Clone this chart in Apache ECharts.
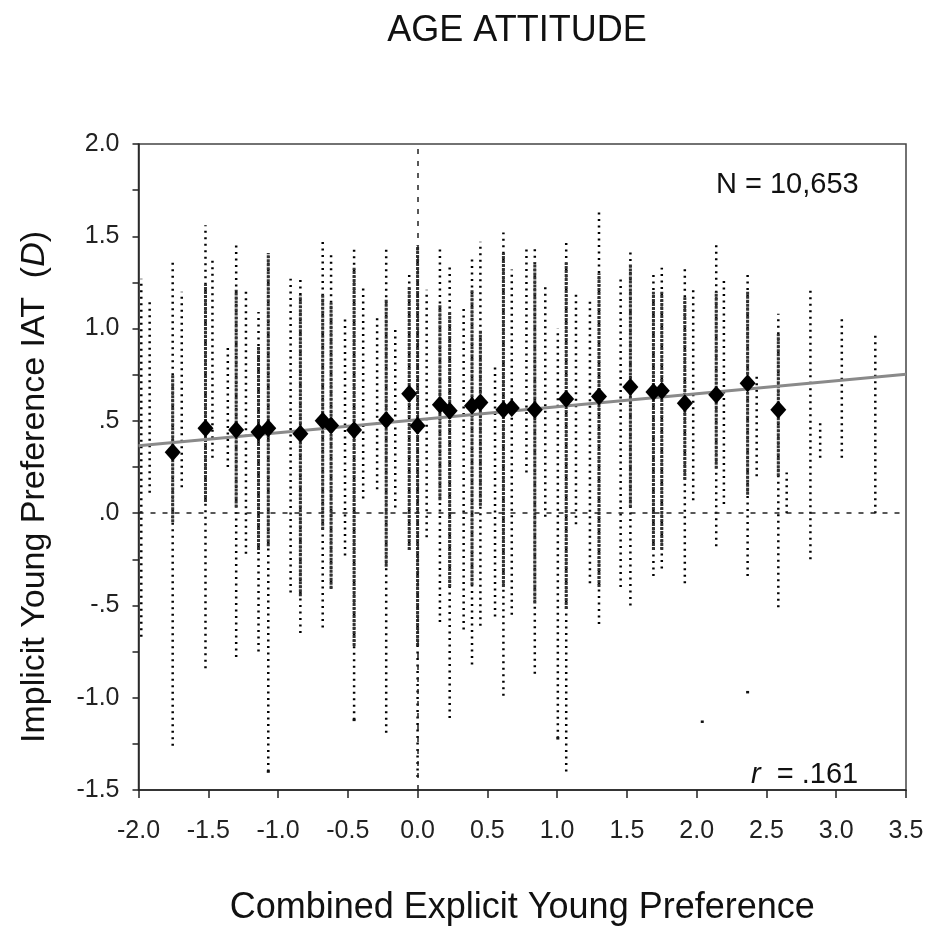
<!DOCTYPE html>
<html><head><meta charset="utf-8">
<script src="https://cdn.jsdelivr.net/npm/echarts@6/dist/echarts.min.js"></script>
<style>html,body{margin:0;padding:0;background:#fff;}#c{width:930px;height:931px;}</style>
</head><body><div id="c"></div>
<script>
// Column positions (explicit preference values) and vertical extent of the IAT scores in each column
const colX    = [-1.98,-1.92,-1.755,-1.69,-1.52,-1.47,-1.36,-1.30,-1.23,-1.14,-1.07,-0.91,-0.84,-0.68,-0.62,-0.52,-0.455,-0.39,-0.29,-0.225,-0.16,-0.06,0.0,0.065,0.16,0.23,0.33,0.39,0.45,0.555,0.615,0.675,0.78,0.84,0.915,1.005,1.065,1.135,1.235,1.30,1.455,1.525,1.69,1.75,1.915,1.975,2.14,2.195,2.365,2.43,2.585,2.645,2.815,2.885,3.04,3.28];
const colLo   = [-0.67,0.11,-1.26,0.14,-0.84,0.30,0.25,-0.78,-0.22,-0.75,-1.40,-0.43,-0.65,-0.62,-0.41,-0.23,-1.12,0.08,0.13,-1.19,0.03,-0.20,-1.43,-0.13,-0.59,-1.11,-0.63,-0.82,-0.61,-0.56,-0.99,-0.55,0.22,-0.87,-0.02,-1.22,-1.40,-0.06,-0.38,-0.60,-0.40,-0.50,-0.34,-0.30,-0.38,0.07,-0.18,0.05,-0.34,0.20,-0.51,0.00,-0.25,0.30,0.30,0.00];
const colHi   = [1.27,1.15,1.37,1.20,1.56,1.37,0.90,1.45,1.21,1.09,1.41,1.27,1.28,1.48,1.41,1.05,1.44,1.24,1.07,1.44,1.00,1.30,1.45,1.21,1.43,1.35,1.12,1.39,1.47,0.79,1.52,1.32,1.43,1.43,1.24,1.00,1.47,1.20,1.17,1.63,1.29,1.43,1.30,1.33,1.34,1.23,1.46,1.26,1.29,0.76,1.08,0.22,1.22,0.50,1.06,0.97];
// Dense core of the columns (null where the column is sparse)
const coreLo  = [null,null,-0.05,null,0.06,null,null,0.03,null,-0.20,-0.18,null,-0.45,-0.09,-0.41,null,-0.72,null,null,-0.29,null,-0.20,-0.72,null,0.07,-0.40,null,-0.39,0.04,null,-0.40,null,null,-0.49,null,null,-0.52,null,null,-0.40,null,0.03,-0.20,-0.20,0.18,null,0.24,null,0.10,null,0.20,null,null,null,null,null];
const coreHi  = [null,null,0.75,null,1.24,null,null,1.21,null,0.90,1.41,null,1.18,1.19,1.14,null,1.33,null,null,1.16,null,1.23,1.45,null,1.13,1.09,null,1.21,0.99,null,1.41,null,null,1.36,null,null,1.36,null,null,1.30,null,1.35,1.20,1.20,1.17,null,1.20,null,1.20,null,0.97,null,null,null,null,null];
// Isolated outlying scores
const outX = [2.04,2.365,-1.07,1.005,-0.455];
const outY = [-1.13,-0.97,-1.40,-1.22,-1.12];
// Column means (diamonds)
const meanX = [-1.755,-1.52,-1.30,-1.14,-1.07,-0.84,-0.68,-0.62,-0.455,-0.225,-0.06,0.0,0.16,0.23,0.39,0.45,0.615,0.675,0.84,1.065,1.30,1.525,1.69,1.75,1.915,2.14,2.365,2.585];
const meanY = [0.33,0.46,0.45,0.44,0.46,0.43,0.50,0.475,0.45,0.505,0.647,0.473,0.587,0.555,0.582,0.60,0.56,0.57,0.56,0.618,0.632,0.683,0.656,0.663,0.596,0.641,0.704,0.56];
// Regression line end points
const regX = [-2.0, 3.5];
const regY = [0.365, 0.753];
const yTickLabels = {"2":"2.0","1.5":"1.5","1":"1.0","0.5":".5","0":".0","-0.5":"-.5","-1":"-1.0","-1.5":"-1.5"};

const chart = echarts.init(document.getElementById('c'));
const font = "'Liberation Sans', Arial, sans-serif";

const colData = colX.map((x,i)=>[x,colLo[i],colHi[i]]);
const coreData = colX.map((x,i)=>[x,coreLo[i],coreHi[i]]).filter(d=>d[1]!==null);

function vline(style){
  return function(params, api){
    const p1 = api.coord([api.value(0), api.value(1)]);
    const p2 = api.coord([api.value(0), api.value(2)]);
    return {type:'line', shape:{x1:p1[0],y1:p1[1],x2:p2[0],y2:p2[1]}, style:style};
  };
}

chart.setOption({
  animation:false,
  backgroundColor:'#fff',
  title:{text:'AGE ATTITUDE', left:512, top:8, textAlign:'center',
    textStyle:{fontFamily:font, fontSize:36, fontWeight:'normal', color:'#111'}},
  grid:{left:138.5, right:24, top:144, bottom:140, show:true, borderColor:'#444', borderWidth:1.5},
  xAxis:{type:'value', min:-2, max:3.5, interval:0.5,
    name:'Combined Explicit Young Preference', nameLocation:'middle', nameGap:100,
    nameTextStyle:{fontFamily:font, fontSize:36, color:'#111'},
    axisLine:{onZero:false, lineStyle:{color:'#222', width:1.5}},
    axisTick:{show:true, inside:false, length:8, lineStyle:{color:'#222', width:1.5}},
    axisLabel:{fontFamily:font, fontSize:25, color:'#222', margin:29, formatter:v=>v.toFixed(1)},
    splitLine:{show:false}},
  yAxis:{type:'value', min:-1.5, max:2.0, interval:0.5,
    axisLine:{onZero:false, lineStyle:{color:'#222', width:1.5}},
    axisTick:{show:true, length:6, lineStyle:{color:'#222', width:1.5}},
    minorTick:{show:true, splitNumber:2, length:6, lineStyle:{color:'#222', width:1.5}},
    axisLabel:{fontFamily:font, fontSize:25, color:'#222', margin:19, formatter:v=>yTickLabels[String(v)]},
    splitLine:{show:false}},
  graphic:[
    {type:'text', x:35, y:487, rotation:Math.PI/2,
      style:{text:'Implicit Young Preference IAT  ({i|D})', font:"34px 'Liberation Sans', Arial, sans-serif", fill:'#111',
        textAlign:'center', textVerticalAlign:'middle',
        rich:{i:{fontStyle:'italic', fontSize:34, fontFamily:font, fill:'#111'}}}},
    {type:'text', left:716, top:170, style:{text:'N = 10,653', font:"29px 'Liberation Sans', Arial, sans-serif", fill:'#111'}},
    {type:'text', left:751, top:760, style:{text:'{i|r}  = .161', font:"29px 'Liberation Sans', Arial, sans-serif", fill:'#111',
      rich:{i:{fontStyle:'italic', fontSize:29, fontFamily:font, fill:'#111'}}}}
  ],
  series:[
    {type:'custom', name:'cols', data:colData, encode:{x:0, y:[1,2]}, z:2,
      renderItem:vline({stroke:'#000', lineWidth:2.5, lineDash:[2,4.5]})},
    {type:'custom', name:'cores', data:coreData, encode:{x:0, y:[1,2]}, z:3,
      renderItem:vline({stroke:'#333', lineWidth:3, lineDash:[3,1]})},
    {type:'scatter', name:'outliers', data:outX.map((x,i)=>[x,outY[i]]), symbol:'rect', symbolSize:[3,2.5], z:3,
      itemStyle:{color:'#111', opacity:1}},
    {type:'line', name:'reg', data:regX.map((x,i)=>[x,regY[i]]), symbol:'none', z:4,
      lineStyle:{color:'#8a8a8a', width:3},
      markLine:{silent:true, symbol:'none', label:{show:false},
        lineStyle:{color:'#222', type:[5,7], width:1.5},
        data:[{xAxis:0},{yAxis:0}]}},
    {type:'scatter', name:'means', data:meanX.map((x,i)=>[x,meanY[i]]), symbol:'diamond', symbolSize:[16,18], z:5,
      itemStyle:{color:'#000', opacity:1}}
  ]
});
</script></body></html>
